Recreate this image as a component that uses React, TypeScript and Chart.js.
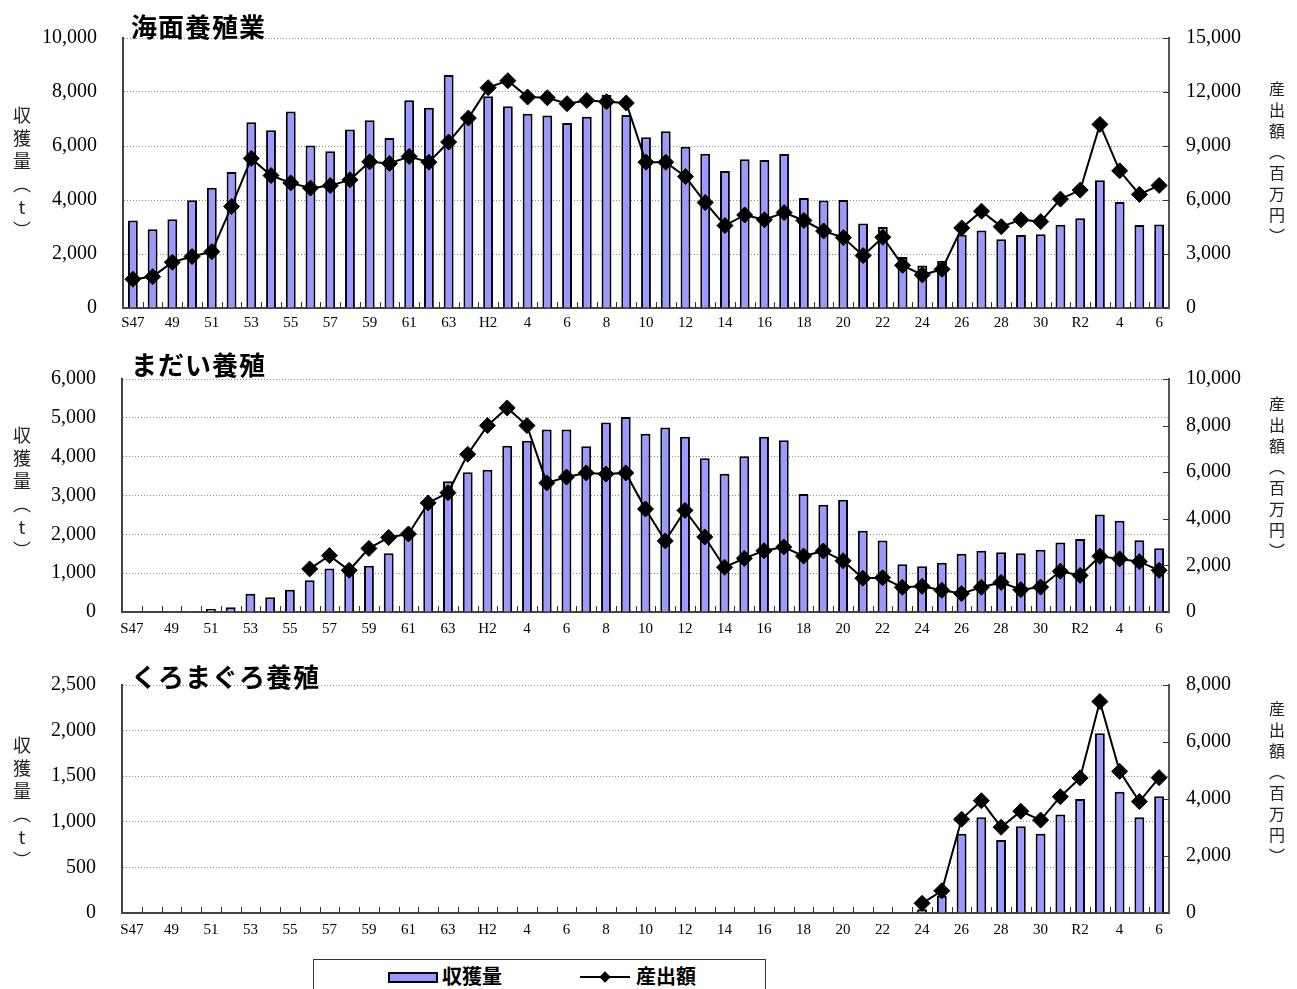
import React, { useEffect, useRef } from "react";
import { Chart, registerables } from "chart.js";

Chart.register(...registerables);

// ---- categories (S47 .. R6) ----
const categories: string[] = [
  "S47", "48", "49", "50", "51", "52", "53", "54", "55", "56", "57", "58", "59", "60", "61", "62", "63",
  "H元", "H2", "3", "4", "5", "6", "7", "8", "9", "10", "11", "12", "13", "14", "15", "16", "17", "18", "19",
  "20", "21", "22", "23", "24", "25", "26", "27", "28", "29", "30",
  "R元", "R2", "3", "4", "5", "6",
];

// ---- 海面養殖業 ----
const kaimenHarvest: (number | null)[] = [
  3240, 2920, 3290, 3990, 4450, 5040, 6880, 6580, 7280, 6020, 5810, 6610, 6950, 6300, 7690, 7420, 8630,
  7050, 7840, 7470, 7190, 7130, 6850, 7080, 7900, 7150,
  6320, 6550, 5970, 5710, 5070, 5510, 5480, 5700, 4070, 3980, 4000, 3130, 3000, 1890, 1570, 1750,
  2710, 2870, 2550, 2700, 2730,
  3080, 3320, 4730, 3930, 3070, 3090,
];
const kaimenValue: (number | null)[] = [
  1600, 1740, 2540, 2860, 3130, 5640, 8310, 7360, 6950, 6660, 6800, 7120, 8120, 8030, 8420, 8100, 9220,
  10550, 12240, 12630, 11720, 11680, 11350, 11530, 11460, 11390,
  8100, 8100, 7300, 5860, 4580, 5170, 4900, 5300, 4860, 4280, 3910, 2910, 3930, 2370, 1840, 2150,
  4450, 5380, 4520, 4900, 4800,
  6050, 6550, 10200, 7620, 6310, 6810,
];

// ---- まだい養殖 ----
const madaiHarvest: (number | null)[] = [
  null, null, 20, 20, 80, 120, 470, 380, 570, 820, 1120, 1050, 1190, 1510, 1980, 2750, 3370,
  3600, 3660, 4280, 4410, 4700, 4700, 4270, 4880, 5020,
  4590, 4750, 4510, 3960, 3560, 4010, 4510, 4420, 3040, 2760, 2890, 2090, 1840, 1230, 1180, 1270,
  1500, 1580, 1540, 1510, 1600,
  1790, 1880, 2510, 2350, 1850, 1640,
];
const madaiValue: (number | null)[] = [
  null, null, null, null, null, null, null, null, null, 1850, 2420, 1790, 2730, 3200, 3350, 4680, 5120,
  6770, 8000, 8760, 8000, 5540, 5790, 5970, 5920, 5970,
  4420, 3050, 4360, 3220, 1920, 2300, 2630, 2790, 2400, 2620, 2200, 1450, 1470, 1060, 1100, 930,
  790, 1060, 1270, 960, 1070,
  1750, 1570, 2390, 2280, 2160, 1790,
];

// ---- くろまぐろ養殖 ----
const maguroHarvest: (number | null)[] = [
  null, null, null, null, null, null, null, null, null, null, null, null, null, null, null, null, null,
  null, null, null, null, null, null, null, null, null,
  null, null, null, null, null, null, null, null, null, null, null, null, null, null, 40, 190,
  870, 1050, 800, 950, 870,
  1080, 1250, 1970, 1330, 1050, 1280,
];
const maguroValue: (number | null)[] = [
  null, null, null, null, null, null, null, null, null, null, null, null, null, null, null, null, null,
  null, null, null, null, null, null, null, null, null,
  null, null, null, null, null, null, null, null, null, null, null, null, null, null, 340, 780,
  3290, 3940, 3010, 3570, 3260,
  4080, 4740, 7420, 4970, 3910, 4750,
];

// ---- axis ranges [min, max, step] ----
const kaimenLeftAxis = [0, 10000, 2000];
const kaimenRightAxis = [0, 15000, 3000];
const madaiLeftAxis = [0, 6000, 1000];
const madaiRightAxis = [0, 10000, 2000];
const maguroLeftAxis = [0, 2500, 500];
const maguroRightAxis = [0, 8000, 2000];

const harvestLabel = "収獲量";
const valueLabel = "産出額";
const leftAxisTitle = "収獲量（t）";
const rightAxisTitle = "産出額（百万円）";

const W = 1297;
const RIGHT_EDGE = 1169;
const SERIF = "'Liberation Serif', 'DejaVu Serif', serif";
const GOTHIC = "'Noto Sans CJK JP', 'Noto Sans', sans-serif";

const innerTicks = {
  id: "innerTicks",
  afterDraw(chart: any) {
    const { ctx, chartArea, scales } = chart;
    const x = scales.x;
    const y2 = scales.y2;
    ctx.save();
    ctx.strokeStyle = "#333";
    ctx.lineWidth = 1;
    ctx.beginPath();
    const n = categories.length;
    for (let i = 1; i < n; i++) {
      const px = Math.round((x.getPixelForValue(i - 1) + x.getPixelForValue(i)) / 2) + 0.5;
      ctx.moveTo(px, chartArea.bottom);
      ctx.lineTo(px, chartArea.bottom - 6);
    }
    y2.ticks.forEach((t: any) => {
      const py = Math.round(y2.getPixelForValue(t.value)) + 0.5;
      ctx.moveTo(chartArea.right, py);
      ctx.lineTo(chartArea.right - 6, py);
    });
    ctx.stroke();
    ctx.restore();
  },
};

type PanelProps = {
  top: number;
  height: number;
  plotTop: number;
  plotBottom: number;
  leftW: number;
  xPad: number;
  harvest: (number | null)[];
  value: (number | null)[];
  left: number[];
  right: number[];
};

function Panel(p: PanelProps) {
  const ref = useRef<HTMLCanvasElement | null>(null);
  useEffect(() => {
    if (!ref.current) return;
    const fmt = (v: any) => Number(v).toLocaleString("en-US");
    const tickFont = { family: SERIF, size: 20 };
    const chart = new Chart(ref.current, {
      type: "bar",
      data: {
        labels: categories,
        datasets: [
          {
            type: "line",
            label: valueLabel,
            data: p.value,
            yAxisID: "y2",
            borderColor: "#000",
            borderWidth: 2,
            pointStyle: "rectRot",
            pointRadius: 8,
            pointBackgroundColor: "#000",
            pointBorderColor: "#000",
            pointBorderWidth: 1,
            tension: 0,
            order: 0,
          } as any,
          {
            type: "bar",
            label: harvestLabel,
            data: p.harvest,
            yAxisID: "y",
            backgroundColor: "#9999FF",
            borderColor: "#000",
            borderWidth: 2,
            barPercentage: 0.5,
            categoryPercentage: 1,
            order: 1,
          } as any,
        ],
      },
      options: {
        responsive: false,
        animation: false,
        layout: { padding: { top: p.plotTop, left: 0, right: 0, bottom: 0 } },
        plugins: { legend: { display: false }, tooltip: { enabled: false } },
        scales: {
          x: {
            grid: { display: false, drawTicks: false },
            border: { display: true, color: "#444", width: 2 },
            ticks: {
              autoSkip: false,
              maxRotation: 0,
              minRotation: 0,
              padding: p.xPad,
              color: "#000",
              font: { family: SERIF, size: 15 },
              callback: (_v: any, i: number) => (i % 2 === 0 ? categories[i] : ""),
            },
            afterFit: (s: any) => {
              s.height = p.height - p.plotBottom;
            },
          },
          y: {
            position: "left",
            min: p.left[0],
            max: p.left[1],
            ticks: { stepSize: p.left[2], padding: 26, color: "#000", font: tickFont, callback: fmt },
            grid: { color: "#888", lineWidth: 1, drawTicks: false },
            border: { display: true, color: "#444", width: 2, dash: [1, 2] },
            afterFit: (s: any) => {
              s.width = p.leftW;
              s.paddingTop = 0;
              s.paddingBottom = 0;
            },
          },
          y2: {
            position: "right",
            min: p.right[0],
            max: p.right[1],
            ticks: { stepSize: p.right[2], padding: 17, color: "#000", font: tickFont, callback: fmt },
            grid: { drawOnChartArea: false, drawTicks: false },
            border: { display: true, color: "#555", width: 2 },
            afterFit: (s: any) => {
              s.width = W - RIGHT_EDGE;
              s.paddingTop = 0;
              s.paddingBottom = 0;
            },
          },
        },
      } as any,
      plugins: [innerTicks],
    });
    return () => chart.destroy();
  }, []);
  return (
    <canvas
      ref={ref}
      width={W}
      height={p.height}
      style={{ position: "absolute", left: 0, top: p.top, width: W, height: p.height }}
    />
  );
}

const titleStyle = (top: number): React.CSSProperties => ({
  position: "absolute",
  left: 131,
  top,
  fontFamily: GOTHIC,
  fontWeight: 700,
  fontSize: 26,
  lineHeight: "27px",
  letterSpacing: 1,
  color: "#000",
  whiteSpace: "nowrap",
});

const vStyle = (left: number, top: number, size: number, spacing: number): React.CSSProperties => ({
  position: "absolute",
  left,
  top,
  writingMode: "vertical-rl",
  textOrientation: "upright",
  fontFamily: GOTHIC,
  fontSize: size,
  lineHeight: `${size + 2}px`,
  letterSpacing: spacing,
  color: "#222",
  whiteSpace: "nowrap",
});

export default function App() {
  return (
    <div
      style={{
        position: "fixed",
        left: 0,
        top: 0,
        width: W,
        height: 989,
        overflow: "hidden",
        background: "#fff",
      }}
    >
      <Panel top={0} height={340} plotTop={38} plotBottom={308} leftW={123} xPad={6}
        harvest={kaimenHarvest} value={kaimenValue} left={kaimenLeftAxis} right={kaimenRightAxis} />
      <Panel top={340} height={310} plotTop={39} plotBottom={272} leftW={122} xPad={8}
        harvest={madaiHarvest} value={madaiValue} left={madaiLeftAxis} right={madaiRightAxis} />
      <Panel top={650} height={300} plotTop={35} plotBottom={263} leftW={122} xPad={8}
        harvest={maguroHarvest} value={maguroValue} left={maguroLeftAxis} right={maguroRightAxis} />

      <div style={titleStyle(12)}>海面養殖業</div>
      <div style={titleStyle(350)}>まだい養殖</div>
      <div style={titleStyle(662)}>くろまぐろ養殖</div>

      <div style={vStyle(12, 106, 18, 5)}>{leftAxisTitle}</div>
      <div style={vStyle(1268, 81, 16, 5)}>{rightAxisTitle}</div>
      <div style={vStyle(12, 426, 18, 5)}>{leftAxisTitle}</div>
      <div style={vStyle(1268, 396, 16, 5)}>{rightAxisTitle}</div>
      <div style={vStyle(12, 736, 18, 5)}>{leftAxisTitle}</div>
      <div style={vStyle(1268, 701, 16, 5)}>{rightAxisTitle}</div>

      <div
        style={{
          position: "absolute",
          left: 313,
          top: 959,
          width: 453,
          height: 60,
          border: "1px solid #333",
          boxSizing: "border-box",
        }}
      />
      <div
        style={{
          position: "absolute",
          left: 388,
          top: 972,
          width: 50,
          height: 11,
          background: "#9999FF",
          border: "2px solid #000",
          boxSizing: "border-box",
        }}
      />
      <div style={{ position: "absolute", left: 442, top: 965, fontFamily: GOTHIC, fontWeight: 700, fontSize: 20, lineHeight: "22px" }}>
        {harvestLabel}
      </div>
      <div style={{ position: "absolute", left: 580, top: 976, width: 50, height: 2, background: "#000" }} />
      <div
        style={{
          position: "absolute",
          left: 601,
          top: 973,
          width: 8,
          height: 8,
          background: "#000",
          transform: "rotate(45deg)",
        }}
      />
      <div style={{ position: "absolute", left: 636, top: 965, fontFamily: GOTHIC, fontWeight: 700, fontSize: 20, lineHeight: "22px" }}>
        {valueLabel}
      </div>
    </div>
  );
}
